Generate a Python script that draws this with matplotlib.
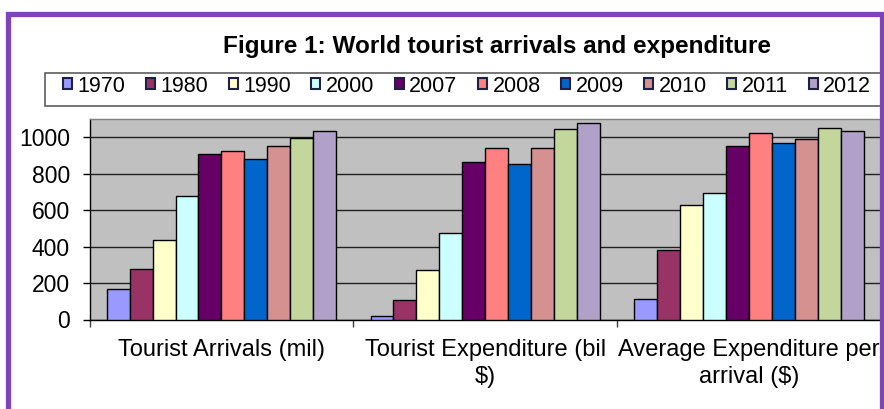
import matplotlib
matplotlib.use("Agg")
import matplotlib.pyplot as plt
from matplotlib.patches import Rectangle
import numpy as np

plt.rcParams['font.family'] = ['Liberation Sans', 'DejaVu Sans']

categories = ["Tourist Arrivals (mil)", "Tourist Expenditure (bil\n$)",
              "Average Expenditure per\narrival ($)"]
years = ["1970", "1980", "1990", "2000", "2007", "2008", "2009", "2010", "2011", "2012"]
v1970 = [166, 18, 112]
v1980 = [278, 106, 381]
v1990 = [436, 271, 628]
v2000 = [680, 473, 696]
v2007 = [906, 863, 952]
v2008 = [924, 943, 1024]
v2009 = [881, 852, 970]
v2010 = [952, 940, 992]
v2011 = [996, 1044, 1049]
v2012 = [1036, 1077, 1036]
series = [v1970, v1980, v1990, v2000, v2007, v2008, v2009, v2010, v2011, v2012]
colors = ["#9999FF", "#993366", "#FFFFCC", "#CCFFFF", "#660066",
          "#FF8080", "#0066CC", "#D4918F", "#C3D69B", "#B1A0C7"]
yticks = [0, 200, 400, 600, 800, 1000]

W, H = 884, 409
fig = plt.figure(figsize=(W / 100, H / 100), dpi=100)
fig.patch.set_facecolor("white")

# purple outer border
fig.patches.append(Rectangle((8 / W, -0.1), (882 - 8) / W, 1 - 14.5 / H + 0.1,
                             transform=fig.transFigure, fill=False,
                             edgecolor="#7E44B8", linewidth=3.8))

ax_l, ax_r, ax_t, ax_b = 89.5, 881, 119, 319.5
ax = fig.add_axes([ax_l / W, 1 - ax_b / H, (ax_r - ax_l) / W, (ax_b - ax_t) / H])
ax.set_facecolor("#C0C0C0")

x = np.arange(len(categories))
n = len(series)
bw = 1 / 11.5
handles = []
for i, (vals, c, y) in enumerate(zip(series, colors, years)):
    b = ax.bar(x + (i - (n - 1) / 2) * bw, vals, width=bw, color=c,
               edgecolor="black", linewidth=1.0, label=y, zorder=3)
    handles.append(b)

ax.set_xlim(-0.5, 2.5)
ax.set_ylim(0, 1100)
ax.set_yticks(yticks)
ax.set_yticklabels([str(t) for t in yticks])
ax.yaxis.grid(True, color="#202020", linewidth=1.0, zorder=1)
ax.set_axisbelow(True)

ax.set_xticks(x)
ax.set_xticklabels(categories, fontsize=17, linespacing=1.3)
ax.set_xticks([-0.5, 0.5, 1.5, 2.5], minor=True)
ax.tick_params(axis="x", which="major", length=0, pad=14)
ax.tick_params(axis="x", which="minor", length=5, width=1, color="#404040", direction="out")
ax.tick_params(axis="y", length=5, width=1, direction="out", pad=9, labelsize=16.5)

for s in ["left", "bottom"]:
    ax.spines[s].set_color("black")
    ax.spines[s].set_linewidth(1.0)
for s in ["top", "right"]:
    ax.spines[s].set_color("#808080")
    ax.spines[s].set_linewidth(1.0)

# title
fig.text(497 / W, 1 - 46 / H, "Figure 1: World tourist arrivals and expenditure",
         ha="center", va="center", fontsize=17.5, fontweight="bold")

# legend frame
fig.patches.append(Rectangle((45 / W, 1 - 106 / H), (889 - 45) / W, 33 / H,
                             transform=fig.transFigure, facecolor="white",
                             edgecolor="#505050", linewidth=1.1, zorder=0))
leg = fig.legend(handles=handles, labels=years, ncol=10, mode="expand",
                 loc="center", bbox_to_anchor=(63 / W, 1 - 96 / H, (871 - 63) / W, 20 / H),
                 frameon=False, fontsize=15.5, borderpad=0, borderaxespad=0,
                 handlelength=0.42, handleheight=0.42, handletextpad=0.25,
                 columnspacing=0.5)
for h in leg.legend_handles:
    h.set_edgecolor("#202040")
    h.set_linewidth(1.5)

fig.savefig("out.png", dpi=100)
